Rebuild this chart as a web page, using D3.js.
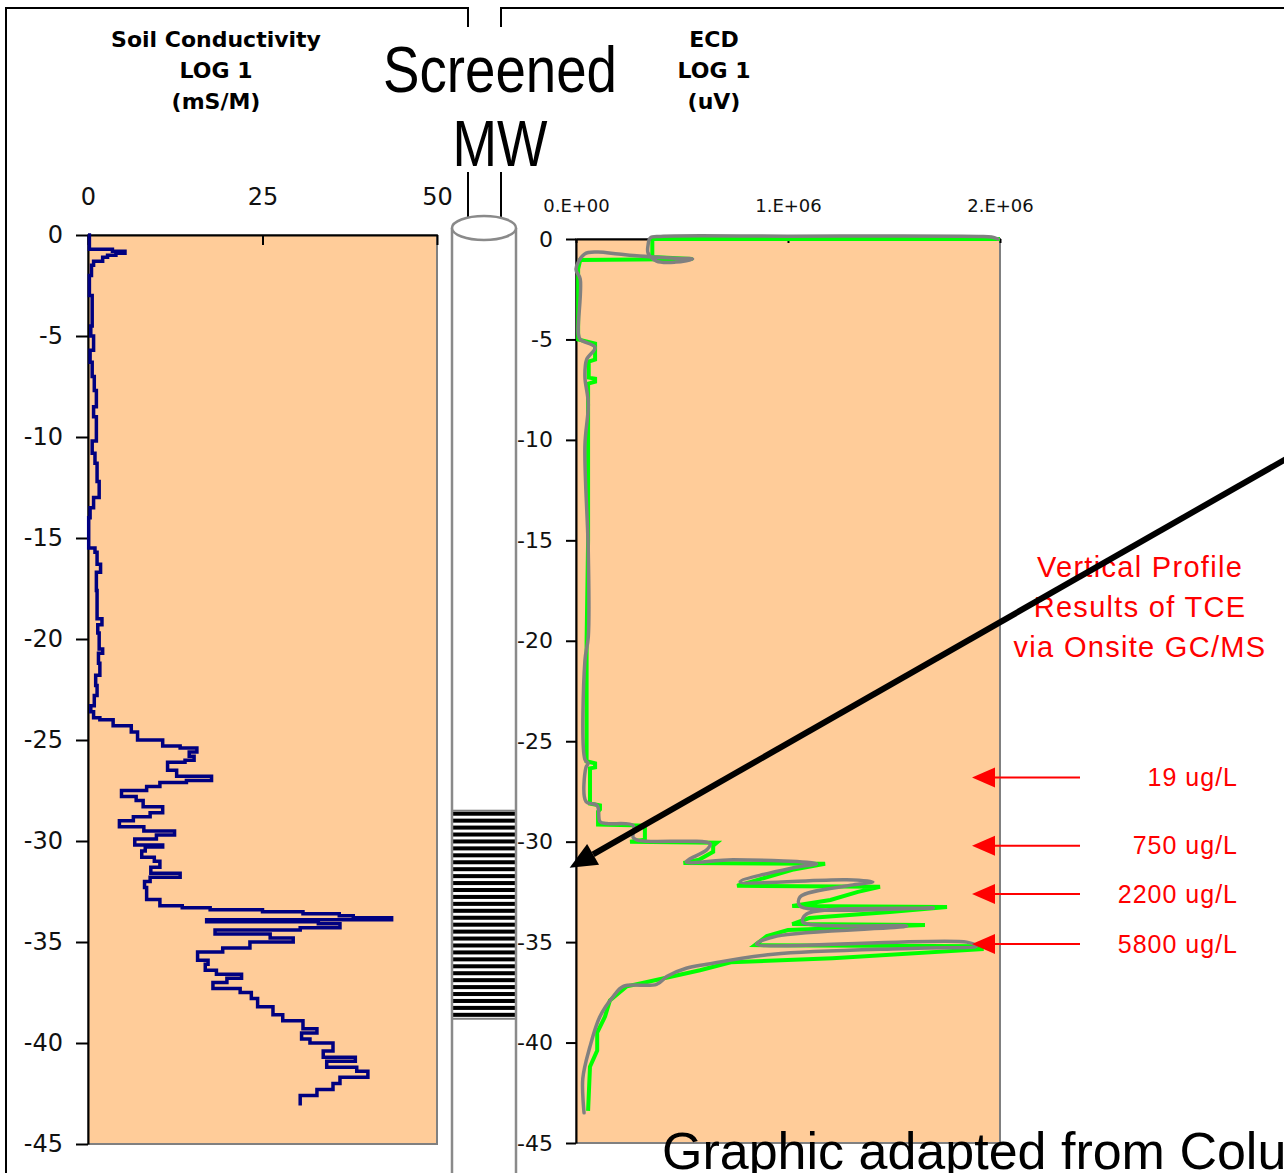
<!DOCTYPE html>
<html>
<head>
<meta charset="utf-8">
<title>Soil Conductivity and ECD logs</title>
<script src="https://d3js.org/d3.v7.min.js"></script>
<style>
  body { margin: 0; background: #fff; }
  svg text { font-family: "DejaVu Sans", sans-serif; }
</style>
</head>
<body>
<div id="chart"></div>
<script>
// depth in ft (negative = below surface), conductivity in mS/m
var condDepth = [0, -0.7, -0.8, -0.9, -1.0, -1.1, -1.3, -1.5, -2.0, -3.0, -4.5, -5.0, -5.7, -6.3, -7.0, -7.7,
  -8.5, -9.0, -10.2, -10.8, -11.3, -12.2, -13.0, -13.5, -14.0, -15.5, -15.7, -16.3, -16.7, -17.0, -17.6,
  -19.0, -19.3, -19.7, -20.5, -20.7, -21.2, -21.8, -22.3, -22.8, -23.3, -23.6, -23.9, -24.0, -24.3, -24.6,
  -25.0, -25.3, -25.4, -25.6, -25.8, -26.0, -26.1, -26.5, -26.8, -27.0, -27.1, -27.3, -27.5, -27.8, -28.0,
  -28.3, -28.6, -28.8, -29.0, -29.3, -29.5, -29.7, -29.9, -30.2, -30.3, -30.5, -30.8, -31.0, -31.3, -31.6,
  -31.8, -32.0, -32.3, -32.9, -33.2, -33.3, -33.4, -33.5, -33.6, -33.7, -33.8, -33.9, -34.0, -34.1, -34.3,
  -34.4, -34.6, -34.8, -35.0, -35.3, -35.5, -35.9, -36.1, -36.4, -36.6, -36.8, -37.0, -37.3, -37.5, -37.8,
  -38.2, -38.6, -38.9, -39.3, -39.5, -39.8, -40.0, -40.4, -40.7, -40.9, -41.2, -41.4, -41.7, -42.0, -42.3,
  -42.6, -42.9, -43.1];
var condValue = [0, 0.2, 3.5, 5.3, 4.0, 2.8, 2.1, 0.8, 0.5, 0.2, 0.6, 0.4, 0.8, 0.3, 0.6, 0.9,
  1.2, 0.8, 1.2, 0.6, 1.0, 1.3, 1.6, 0.8, 0.3, 0.1, 1.0, 1.3, 1.8, 1.2, 1.2,
  1.3, 2.0, 1.4, 1.6, 2.1, 1.5, 1.7, 1.1, 1.3, 0.9, 0.4, 0.8, 1.7, 3.6, 6.2,
  7.1, 10.7, 13.2, 15.6, 14.5, 15.2, 13.9, 11.4, 12.7, 17.7, 14.1, 10.3, 8.4, 4.8, 6.9,
  7.9, 10.7, 8.9, 6.5, 4.5, 8.0, 12.4, 9.8, 6.7, 10.7, 8.2, 7.7, 9.5, 10.3, 9.0,
  13.2, 8.9, 8.1, 8.4, 10.3, 13.5, 17.5, 25.0, 30.8, 36.0, 38.0, 43.5, 17.0, 33.0, 36.1,
  30.4, 18.2, 26.1, 29.4, 23.2, 19.3, 15.7, 17.2, 16.8, 18.4, 22.0, 19.9, 17.9, 21.8, 23.4,
  24.3, 26.5, 27.9, 30.8, 32.8, 30.6, 31.8, 35.1, 33.7, 38.3, 34.2, 38.5, 40.1, 36.1, 35.1,
  32.8, 30.4, 30.4];

// ECD log (uV), logged trace (green)
var ecdDepth = [0, 0, -0.9, -1.0, -1.05, -1.5, -5.0, -5.2, -6.0, -6.1, -6.9, -6.95, -7.1, -7.2, -15.0, -20.0,
  -26.0, -26.1, -26.3, -26.35, -28.1, -28.2, -28.4, -28.5, -29.15, -29.2, -29.9, -30.0, -30.05, -30.2, -30.5,
  -30.9, -31.06, -31.1, -31.4, -32.2, -32.25, -32.5, -32.9, -33.2, -33.25, -33.5, -33.8, -34.1, -34.15, -34.4,
  -34.7, -35.15, -35.2, -35.35, -35.8, -36.0, -36.4, -37.0, -37.2, -37.9, -38.7, -39.5, -40.4, -41.2, -43.4];
var ecdValue = [2.0e6, 3.6e5, 3.6e5, 5.5e5, 2.0e4, 1.0e4, 1.0e4, 9.0e4, 9.0e4, 6.0e4, 6.0e4, 9.0e4, 9.0e4, 5.7e4, 5.7e4, 5.0e4,
  5.0e4, 9.0e4, 9.0e4, 6.6e4, 6.6e4, 1.13e5, 1.13e5, 1.04e5, 1.04e5, 3.25e5, 3.25e5, 2.55e5, 6.64e5, 6.47e5, 6.47e5,
  5.8e5, 5.07e5, 1.175e6, 1.02e6, 7.6e5, 1.434e6, 1.33e6, 1.2e6, 1.02e6, 1.75e6, 1.48e6, 1.1e6, 1.02e6, 1.646e6, 1.0e6,
  9.0e5, 8.44e5, 1.914e6, 1.914e6, 1.21e6, 7.3e5, 5.85e5, 3.3e5, 2.4e5, 1.6e5, 1.37e5, 1.0e5, 1.0e5, 6.6e4, 5.7e4];

// hand-traced ECD outline (gray)
var traceDepth = [0, 0.1, 0.13, 0.14, 0.13, 0.05, -0.3, -0.7, -1.1, -1.15, -1.0, -0.95, -0.85, -0.75, -0.65, -0.75,
  -1.5, -2.0, -4.7, -5.0, -5.4, -6.0, -6.85, -8.2, -10.3, -15.6, -19.8, -21.0, -25.9, -26.1, -26.3, -28.0,
  -28.2, -29.0, -29.1, -29.2, -29.8, -29.95, -30.1, -30.4, -31.0, -30.9, -31.1, -31.3, -32.0, -31.9, -32.0,
  -32.15, -32.75, -33.2, -33.3, -33.6, -34.0, -34.2, -34.7, -35.1, -35.0, -35.2, -35.3, -35.6, -36.1, -36.3,
  -36.7, -37.1, -37.2, -37.7, -38.7, -40.2, -41.8, -43.5];
var traceValue = [1.99e6, 1.96e6, 1.9e6, 1.0e6, 4.0e5, 3.5e5, 3.4e5, 3.4e5, 3.8e5, 4.7e5, 5.5e5, 4.5e5, 3.0e5, 2.0e5, 1.0e5, 4.0e4,
  0, 2.0e4, 1.1e4, 2.0e4, 9.0e4, 5.0e4, 4.2e4, 5.8e4, 4.2e4, 5.8e4, 5.8e4, 4.2e4, 4.2e4, 5.7e4, 4.7e4, 4.7e4,
  1.0e5, 1.13e5, 1.45e5, 2.7e5, 2.7e5, 3.0e5, 6.32e5, 6.17e5, 5.2e5, 7.42e5, 1.135e6, 1.025e6, 7.74e5, 1.277e6, 1.4e6,
  1.307e6, 1.057e6, 1.057e6, 1.685e6, 1.088e6, 1.07e6, 1.56e6, 9.47e5, 8.52e5, 1.843e6, 1.89e6, 1.61e6, 9.3e5, 6.17e5, 5.2e5,
  4.3e5, 3.8e5, 2.23e5, 1.76e5, 1.13e5, 6.6e4, 3.2e4, 3.8e4];

// TCE grab samples
var tceDepth = [-26.8, -30.2, -32.6, -35.1];
var tceLabel = ["19 ug/L", "750 ug/L", "2200 ug/L", "5800 ug/L"];

var depthTicks = [0, -5, -10, -15, -20, -25, -30, -35, -40, -45];
var condTicks = [0, 25, 50];
var ecdTicks = [0, 1e6, 2e6];
var ecdTickLabels = ["0.E+00", "1.E+06", "2.E+06"];

// well screen interval (ft)
var screenTop = -28.5, screenBottom = -38.8;

var width = 1284, height = 1173;
var svg = d3.select("#chart").append("svg")
    .attr("width", width).attr("height", height)
    .style("display", "block");
svg.append("rect").attr("width", width).attr("height", height).attr("fill", "#fff");

// scales
var xL = d3.scaleLinear().domain([0, 50]).range([88, 437]);
var yL = d3.scaleLinear().domain([0, -45]).range([235, 1144]);
var xR = d3.scaleLinear().domain([0, 2e6]).range([576, 1000]);
var yR = d3.scaleLinear().domain([0, -45]).range([239, 1143]);

var plain = function(d) { return String(d); };   // hyphen minus like the original

// panel frames
svg.append("path")
    .attr("d", "M468,27V8H6V1180 M468,172V240 M501,27V8H1290 M501,172V240")
    .attr("fill", "none").attr("stroke", "#000").attr("stroke-width", 2);

// titles
function title(x, lines) {
  svg.append("g").selectAll("text").data(lines).enter().append("text")
      .attr("x", x).attr("y", function(d, i) { return 47 + i * 31; })
      .attr("text-anchor", "middle")
      .style("font-size", "22px").style("font-weight", "bold")
      .text(function(d) { return d; });
}
title(216, ["Soil Conductivity", "LOG 1", "(mS/M)"]);
title(714, ["ECD", "LOG 1", "(uV)"]);

svg.append("text").attr("x", 500).attr("y", 92).attr("text-anchor", "middle")
    .attr("textLength", 234).attr("lengthAdjust", "spacingAndGlyphs")
    .style("font-family", "'Liberation Sans Narrow', 'Arial Narrow', 'Liberation Sans', sans-serif")
    .style("font-size", "64px").text("Screened");
svg.append("text").attr("x", 500).attr("y", 166).attr("text-anchor", "middle")
    .attr("textLength", 95).attr("lengthAdjust", "spacingAndGlyphs")
    .style("font-family", "'Liberation Sans Narrow', 'Arial Narrow', 'Liberation Sans', sans-serif")
    .style("font-size", "64px").text("MW");

// ---- left plot: soil conductivity
var gL = svg.append("g");
gL.append("rect")
    .attr("x", xL(0)).attr("y", yL(0))
    .attr("width", xL(50) - xL(0)).attr("height", yL(-45) - yL(0))
    .attr("fill", "#FFCC99").attr("stroke", "#808080").attr("stroke-width", 2);

var axTopL = gL.append("g").attr("transform", "translate(0," + yL(0) + ")")
    .call(d3.axisTop(xL).tickValues(condTicks).tickSizeInner(-10).tickSizeOuter(0).tickPadding(30)
      .tickFormat(plain));
var axLeftL = gL.append("g").attr("transform", "translate(" + xL(0) + ",0)")
    .call(d3.axisLeft(yL).tickValues(depthTicks).tickSizeInner(12).tickSizeOuter(0).tickPadding(13)
      .tickFormat(plain));

var condLine = d3.line()
    .x(function(i) { return xL(condValue[i]); })
    .y(function(i) { return yL(condDepth[i]); })
    .curve(d3.curveStepAfter);
gL.append("path").datum(d3.range(condDepth.length))
    .attr("d", condLine).attr("fill", "none")
    .attr("stroke", "#000080").attr("stroke-width", 3.5);

// ---- right plot: ECD
var gR = svg.append("g");
gR.append("rect")
    .attr("x", xR(0)).attr("y", yR(0))
    .attr("width", xR(2e6) - xR(0)).attr("height", yR(-45) - yR(0))
    .attr("fill", "#FFCC99").attr("stroke", "#808080").attr("stroke-width", 2);

var axTopR = gR.append("g").attr("transform", "translate(0," + yR(0) + ")")
    .call(d3.axisTop(xR).tickValues(ecdTicks).tickSizeInner(-4).tickSizeOuter(0).tickPadding(27)
      .tickFormat(function(d, i) { return ecdTickLabels[i]; }));
var axLeftR = gR.append("g").attr("transform", "translate(" + xR(0) + ",0)")
    .call(d3.axisLeft(yR).tickValues(depthTicks).tickSizeInner(10).tickSizeOuter(0).tickPadding(13)
      .tickFormat(plain));

var ecdLine = d3.line()
    .x(function(i) { return xR(ecdValue[i]); })
    .y(function(i) { return yR(ecdDepth[i]); });
gR.append("path").datum(d3.range(ecdDepth.length))
    .attr("d", ecdLine).attr("fill", "none")
    .attr("stroke", "#00FF00").attr("stroke-width", 4).attr("stroke-linejoin", "miter");

var traceLine = d3.line()
    .x(function(i) { return xR(traceValue[i]); })
    .y(function(i) { return yR(traceDepth[i]); })
    .curve(d3.curveCatmullRom.alpha(0.5));
gR.append("path").datum(d3.range(traceDepth.length))
    .attr("d", traceLine).attr("fill", "none")
    .attr("stroke", "#808080").attr("stroke-width", 3.5)
    .attr("stroke-linejoin", "round").attr("stroke-linecap", "round");

// axis styling
[axTopL, axLeftL, axTopR, axLeftR].forEach(function(ax) {
  ax.select(".domain").attr("stroke", "#000").attr("stroke-width", 2);
  ax.selectAll(".tick line").attr("stroke", "#000").attr("stroke-width", 2);
  ax.selectAll("text").attr("fill", "#111").style("font-family", "'DejaVu Sans', sans-serif");
});
axTopL.selectAll("text").style("font-size", "24px");
axLeftL.selectAll("text").style("font-size", "24px");
axTopR.selectAll("text").style("font-size", "18px");
axLeftR.selectAll("text").style("font-size", "22px");

// ---- monitoring well pipe
var pipeX0 = 452, pipeX1 = 516, pipeTop = 228;
var gP = svg.append("g");
gP.append("rect").attr("x", pipeX0).attr("y", pipeTop)
    .attr("width", pipeX1 - pipeX0).attr("height", height - pipeTop + 10).attr("fill", "#fff");

var sTop = yL(screenTop), sBot = yL(screenBottom);
var nStripes = 30, step = (sBot - sTop) / nStripes;
gP.append("g").selectAll("rect").data(d3.range(nStripes)).enter().append("rect")
    .attr("x", pipeX0).attr("width", pipeX1 - pipeX0)
    .attr("y", function(i) { return sTop + i * step + 1; })
    .attr("height", step * 0.58).attr("fill", "#000");
gP.append("rect").attr("x", pipeX0).attr("y", sTop)
    .attr("width", pipeX1 - pipeX0).attr("height", sBot - sTop)
    .attr("fill", "none").attr("stroke", "#808080").attr("stroke-width", 2);

gP.append("path")
    .attr("d", "M" + pipeX0 + "," + pipeTop + "V" + (height + 5) + "M" + pipeX1 + "," + pipeTop + "V" + (height + 5))
    .attr("stroke", "#8a8a8a").attr("stroke-width", 2.5);
gP.append("ellipse").attr("cx", (pipeX0 + pipeX1) / 2).attr("cy", pipeTop)
    .attr("rx", (pipeX1 - pipeX0) / 2).attr("ry", 12)
    .attr("fill", "#fff").attr("stroke", "#8a8a8a").attr("stroke-width", 2.5);

// ---- TCE annotations
var gA = svg.append("g").attr("fill", "#FF0000");
gA.selectAll("text.head").data(["Vertical Profile", "Results of TCE", "via Onsite GC/MS"]).enter()
    .append("text").attr("class", "head")
    .attr("x", 1140).attr("y", function(d, i) { return 577 + i * 40; })
    .attr("text-anchor", "middle")
    .style("font-family", "'Liberation Sans', sans-serif")
    .style("font-size", "29px").style("letter-spacing", "1.3px")
    .text(function(d) { return d; });

var marks = gA.selectAll("g.mark").data(d3.range(tceDepth.length)).enter().append("g")
    .attr("class", "mark")
    .attr("transform", function(i) { return "translate(0," + yR(tceDepth[i]) + ")"; });
marks.append("line").attr("x1", 990).attr("x2", 1080)
    .attr("stroke", "#FF0000").attr("stroke-width", 2);
marks.append("path").attr("d", "M972,0L995,-10L995,10Z").attr("fill", "#FF0000");
marks.append("text").attr("x", 1238).attr("dy", "0.35em").attr("text-anchor", "end")
    .style("font-family", "'Liberation Sans', sans-serif")
    .style("font-size", "25px").style("letter-spacing", "1px")
    .text(function(i) { return tceLabel[i]; });

// ---- big black pointer towards the screen
var tip = [xR(-3.0e4), yR(-31.3)], start = [1300, 451];
var dx = tip[0] - start[0], dy = tip[1] - start[1], len = Math.sqrt(dx * dx + dy * dy);
var ux = dx / len, uy = dy / len, headLen = 27, headW = 12;
var bx = tip[0] - ux * headLen, by = tip[1] - uy * headLen;
svg.append("line").attr("x1", start[0]).attr("y1", start[1]).attr("x2", bx).attr("y2", by)
    .attr("stroke", "#000").attr("stroke-width", 6);
svg.append("path")
    .attr("d", "M" + tip[0] + "," + tip[1] +
      "L" + (bx - uy * headW) + "," + (by + ux * headW) +
      "L" + (bx + uy * headW) + "," + (by - ux * headW) + "Z")
    .attr("fill", "#000");

// ---- source caption (runs off the page, as in the original slide)
svg.append("text").attr("x", 662).attr("y", 1169)
    .style("font-family", "'Liberation Sans', sans-serif").style("font-size", "52px")
    .attr("fill", "#000")
    .text("Graphic adapted from Columbia Technologies");
</script>
</body>
</html>
